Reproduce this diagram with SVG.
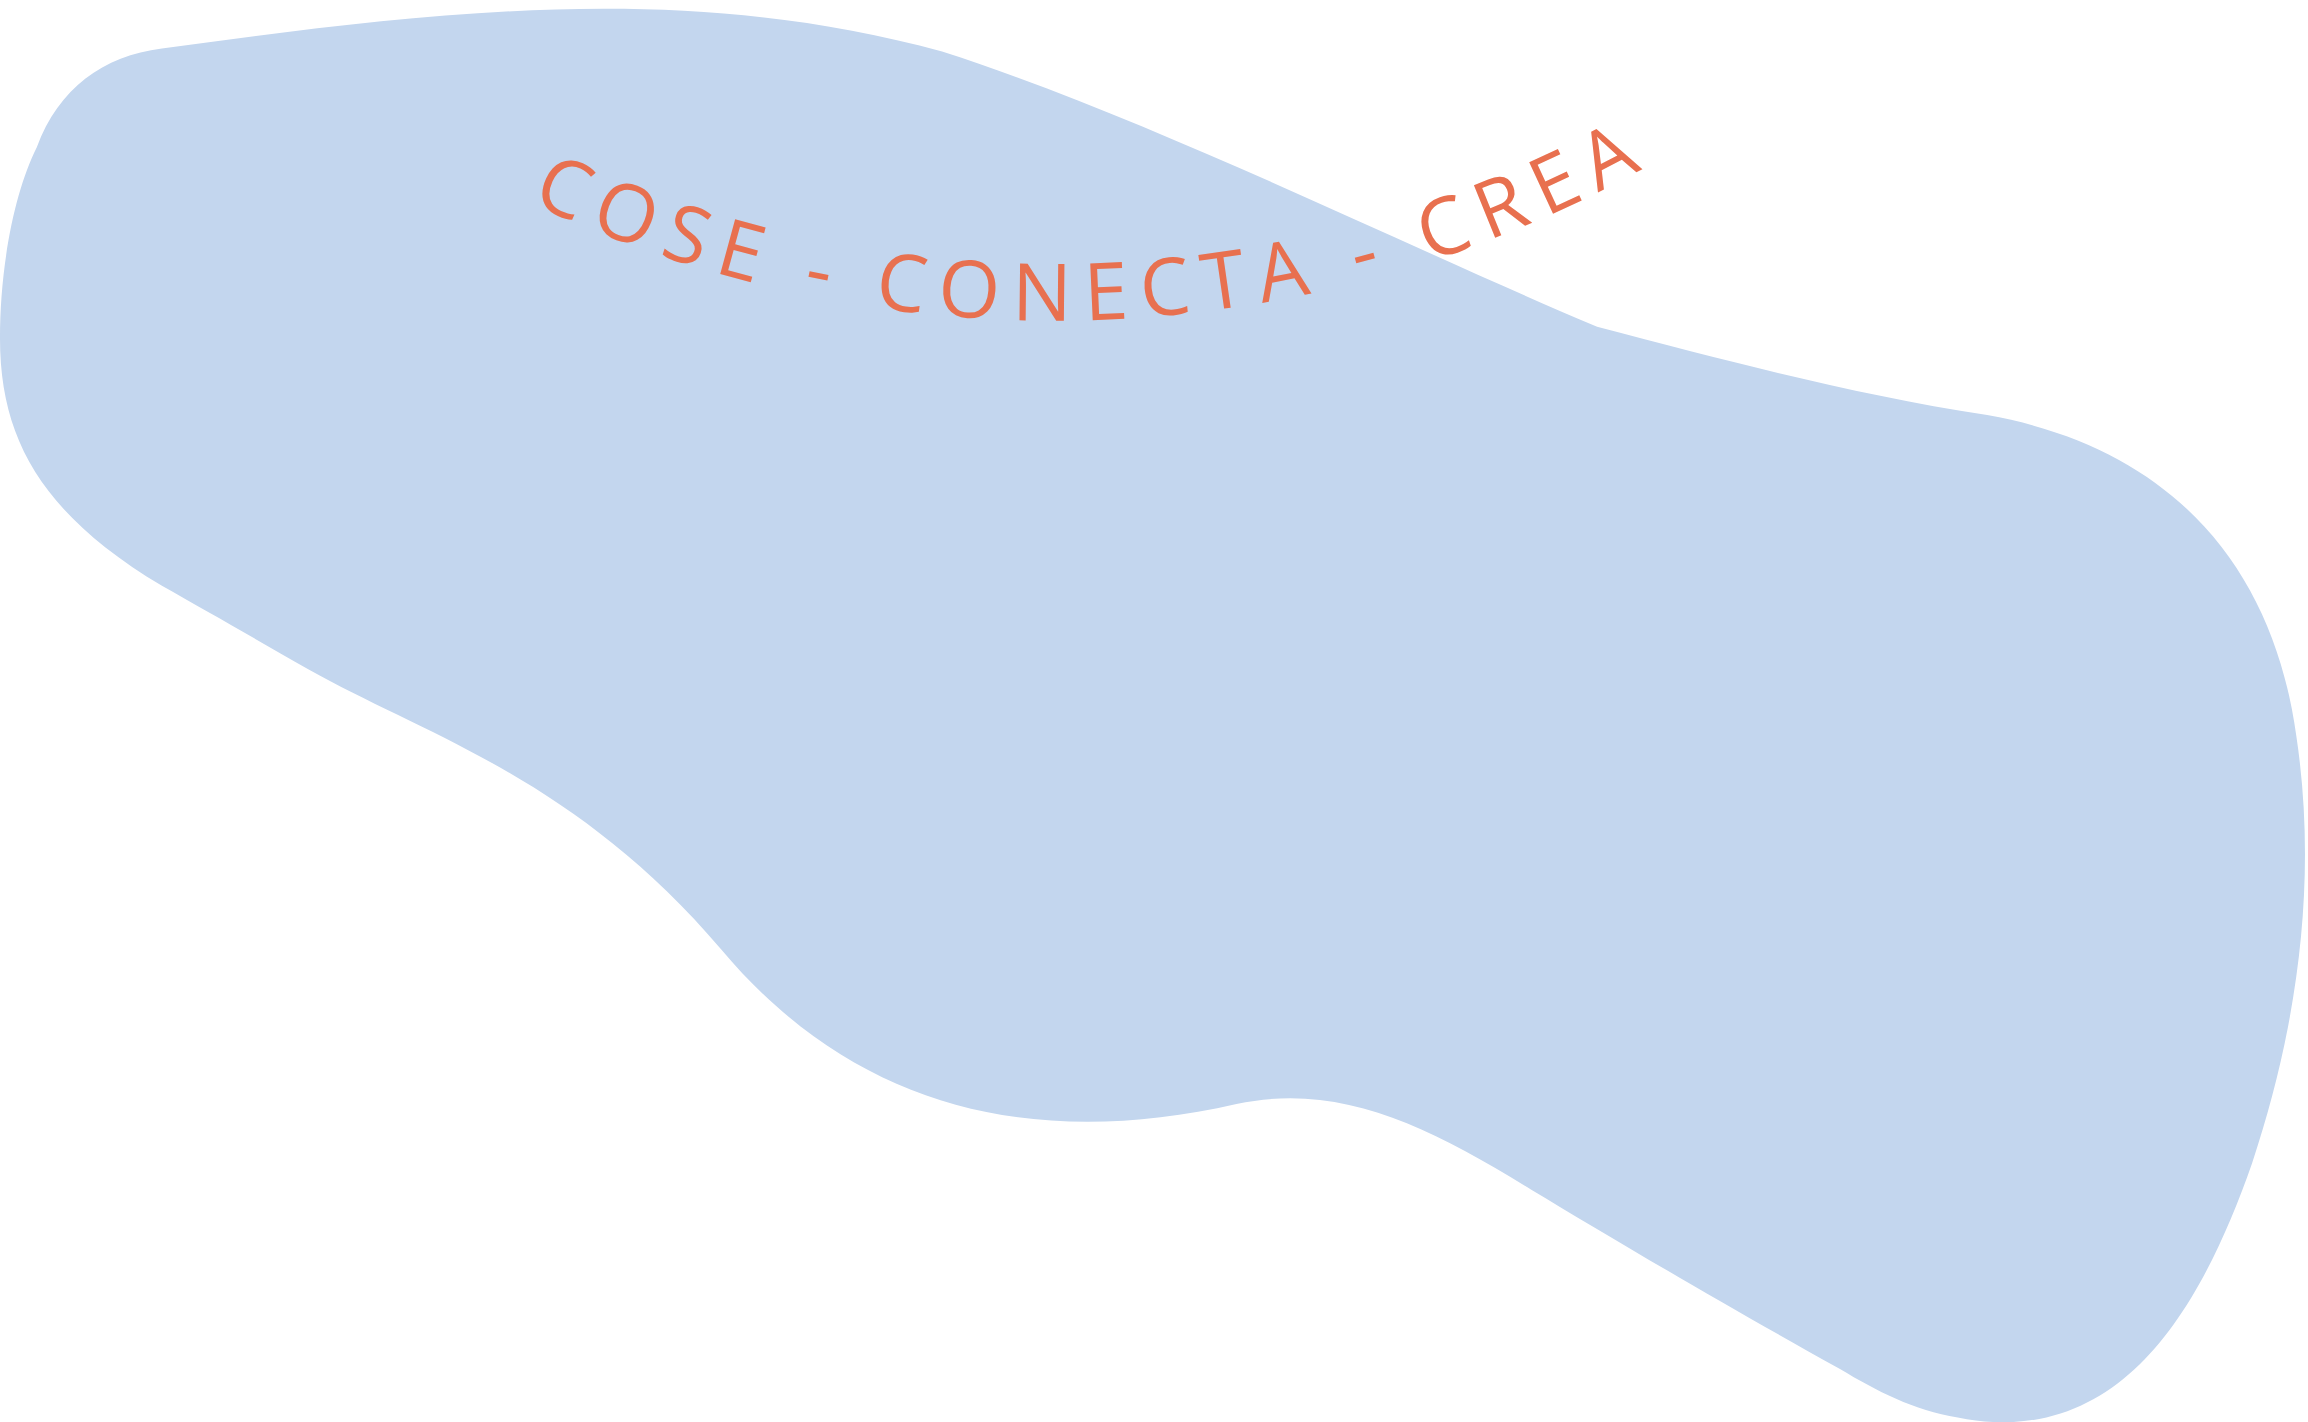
<svg xmlns="http://www.w3.org/2000/svg" width="2308" height="1422" viewBox="0 0 2308 1422">
<style>
.blob{fill:#C3D6EE}
.lbl{font-family:"Open Sans","Liberation Sans",sans-serif;font-size:54px;fill:#E8704F;font-weight:500}
</style>
<defs>
<path id="arc" d="M335,125 A828,828 0 0,0 1110,118"/>
</defs>
<rect width="2308" height="1422" fill="#ffffff"/>
<g transform="scale(1.472)">
<g id="blob">
<path class="blob" d="M110,33 C280,10 460,-15 640,35 C780,80 950,165 1085,222 C1180,247 1260,268 1350,282 C1480,305 1545,390 1560,500 C1575,600 1560,700 1530,790 C1495,890 1440,985 1330,963 C1300,958 1275,945 1250,930 C1160,880 1090,838 1040,808 C970,765 910,735 840,750 C700,782 580,752 490,645 C390,528 290,500 210,455 C170,432 140,415 110,398 C30,350 0,300 0,230 C0,180 10,130 25,100 C40,60 70,38 110,33 Z"/>
</g>
<g id="title">
<text class="lbl"><textPath href="#arc" startOffset="28" textLength="785" lengthAdjust="spacing">COSE - CONECTA - CREA</textPath></text>
</g>
</g>
</svg>
